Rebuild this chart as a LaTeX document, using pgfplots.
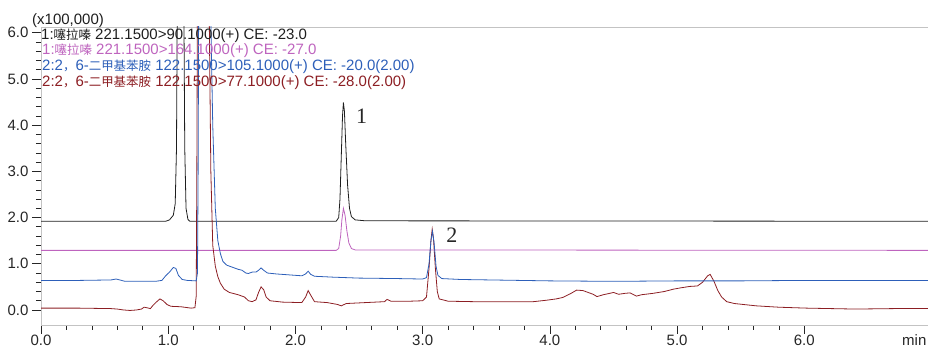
\documentclass[border=0pt]{standalone}
\usepackage{pgfplots}
\pgfplotsset{compat=1.18}
\usepackage{fontspec}
\setmainfont{Liberation Sans}
\newfontfamily\cjk[Scale=0.83]{Noto Sans CJK SC}
\newfontfamily\serif{Liberation Serif}
\definecolor{cblack}{RGB}{30,30,30}
\definecolor{cmag}{RGB}{190,100,190}
\definecolor{cblue}{RGB}{45,95,185}
\definecolor{cred}{RGB}{140,30,35}
\definecolor{axgray}{RGB}{195,195,195}

\pgfplotstableread{
x y
0 1.92
0.98 1.92
1.01 1.95
1.04 2.05
1.055 2.3
1.065 3.5
1.072 7
1.122 7
1.13 3.5
1.14 2.2
1.155 1.96
1.17 1.92
2.32 1.92
2.34 2.0
2.35 2.4
2.36 3.3
2.37 4.2
2.377 4.49
2.385 4.3
2.395 3.6
2.41 2.7
2.425 2.2
2.44 2.02
2.47 1.95
2.55 1.93
6.98 1.92
}\blackdata

\pgfplotstableread{
x y
0 1.29
2.32 1.29
2.34 1.33
2.355 1.6
2.365 1.95
2.377 2.20
2.39 2.05
2.405 1.7
2.42 1.45
2.44 1.33
2.47 1.30
6.98 1.29
}\magdata

\pgfplotstableread{
x y
0 0.64
0.3 0.64
0.55 0.65
0.59 0.67
0.62 0.65
0.66 0.62
0.9 0.62
0.95 0.64
0.98 0.74
1.01 0.82
1.04 0.92
1.06 0.90
1.08 0.75
1.11 0.66
1.15 0.64
1.22 0.63
1.23 0.8
1.235 3
1.24 7
1.33 7
1.35 4
1.37 2.2
1.39 1.5
1.41 1.22
1.43 1.05
1.46 0.97
1.5 0.93
1.55 0.88
1.58 0.86
1.61 0.80
1.63 0.79
1.66 0.82
1.69 0.82
1.71 0.86
1.73 0.91
1.75 0.86
1.78 0.80
1.85 0.78
1.95 0.76
2.05 0.74
2.08 0.78
2.10 0.84
2.12 0.77
2.15 0.73
2.3 0.71
2.5 0.69
2.8 0.68
3.0 0.67
3.03 0.70
3.05 1.0
3.065 1.5
3.077 1.70
3.09 1.45
3.105 0.95
3.12 0.75
3.15 0.68
3.3 0.66
4.0 0.63
4.5 0.62
5.0 0.63
5.5 0.63
6.0 0.64
6.98 0.64
}\bluedata

\pgfplotstableread{
x y
0 0.04
0.3 0.04
0.55 0.03
0.6 0.02
0.65 0.0
0.7 -0.01
0.75 0.0
0.79 0.02
0.81 0.06
0.83 0.05
0.86 0.03
0.88 0.10
0.91 0.18
0.935 0.24
0.96 0.20
0.99 0.12
1.02 0.08
1.1 0.07
1.18 0.04
1.21 0.05
1.22 0.3
1.225 3
1.23 7
1.32 7
1.335 3
1.35 1.4
1.37 0.95
1.39 0.72
1.41 0.58
1.44 0.45
1.48 0.38
1.55 0.33
1.6 0.28
1.63 0.20
1.66 0.18
1.69 0.22
1.71 0.38
1.73 0.50
1.75 0.44
1.77 0.28
1.8 0.20
1.9 0.17
2.05 0.16
2.08 0.28
2.10 0.42
2.12 0.32
2.15 0.18
2.25 0.16
2.33 0.12
2.36 0.09
2.4 0.14
2.55 0.16
2.7 0.18
2.72 0.23
2.75 0.19
2.9 0.19
3.0 0.2
3.03 0.28
3.05 0.9
3.065 1.5
3.075 1.75
3.085 1.55
3.1 0.9
3.115 0.4
3.13 0.24
3.2 0.19
3.4 0.18
3.6 0.18
3.87 0.18
3.97 0.21
4.05 0.24
4.10 0.27
4.16 0.35
4.21 0.43
4.26 0.42
4.3 0.38
4.34 0.34
4.37 0.29
4.42 0.33
4.47 0.36
4.5 0.38
4.54 0.34
4.59 0.36
4.63 0.37
4.68 0.30
4.72 0.33
4.81 0.36
4.9 0.40
4.97 0.45
5.03 0.48
5.1 0.51
5.16 0.52
5.2 0.6
5.24 0.74
5.26 0.77
5.29 0.62
5.32 0.42
5.35 0.28
5.39 0.18
5.45 0.14
5.62 0.09
5.8 0.06
6.02 0.04
6.4 0.02
6.7 0.03
6.98 0.03
}\reddata

\begin{document}
\begin{tikzpicture}
\begin{axis}[
  at={(41bp,23bp)}, anchor=south west,
  scale only axis, width=888bp, height=298bp,
  xmin=0, xmax=6.98, ymin=-0.325, ymax=6.125,
  xtick={0,1,2,3,4,5,6}, ytick={0,1,2,3,4,5,6},
  minor x tick num=4, minor y tick num=4,
  tick align=outside, tick pos=left,
  major tick length=9bp, minor tick length=5bp,
  axis line style={draw=axgray, line width=0.9bp},
  tick style={draw=black!85, line width=0.7bp},
  tick label style={font=\fontsize{15bp}{15bp}\selectfont, text=black!85},
  xticklabel style={yshift=2.5bp},
  /pgf/number format/assume math mode=true,
  /pgf/number format/.cd, fixed, fixed zerofill, precision=1,
]
\addplot[cblack, line width=0.8bp] table {\blackdata};
\addplot[cmag, line width=0.8bp] table {\magdata};
\addplot[cred, line width=0.8bp] table {\reddata};
\addplot[cblue, line width=0.8bp] table {\bluedata};
\node[font=\serif\fontsize{22bp}{22bp}\selectfont, text=black!85] at (axis cs:2.52,4.2) {1};
\node[font=\serif\fontsize{22bp}{22bp}\selectfont, text=black!85] at (axis cs:3.23,1.62) {2};
\end{axis}
\begin{scope}[every node/.style={anchor=base west, inner sep=0pt, font=\fontsize{15bp}{15bp}\selectfont}]
\node[text=cblack] at (32bp,323bp) {(x100,000)};
\node[text=cblack] at (41bp,308bp) {1:{\cjk 噻拉嗪} 221.1500>90.1000(+) CE: -23.0};
\node[text=cmag] at (42bp,293bp) {1:{\cjk 噻拉嗪} 221.1500>164.1000(+) CE: -27.0};
\node[text=cblue] at (42bp,277bp) {2:2{\cjk ，}6-{\cjk 二甲基苯胺} 122.1500>105.1000(+) CE: -20.0(2.00)};
\node[text=cred] at (42bp,261bp) {2:2{\cjk ，}6-{\cjk 二甲基苯胺} 122.1500>77.1000(+) CE: -28.0(2.00)};
\node[text=black!85] at (902bp,3bp) {min};
\end{scope}
\pgfresetboundingbox
\path[use as bounding box] (0,0) rectangle (928bp,348bp);
\end{tikzpicture}
\end{document}
